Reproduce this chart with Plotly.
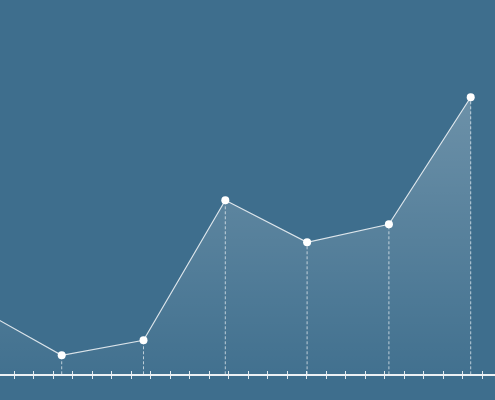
import plotly.graph_objects as go

# data (first point sits just left of the visible area)
steps = [0, 1, 2, 3, 4, 5, 6]
values = [65, 19, 34, 174, 132, 150, 277]

BG = "#3e6e8d"

fig = go.Figure()

# area under the line, fading towards the axis
fig.add_trace(go.Scatter(
    x=steps, y=values, mode="lines",
    line=dict(color="rgba(255,255,255,0)", width=0),
    fill="tozeroy",
    fillgradient=dict(type="vertical", start=0, stop=max(values),
                      colorscale=[[0, "rgba(255,255,255,0.02)"],
                                  [1, "rgba(255,255,255,0.24)"]]),
    hoverinfo="skip", showlegend=False,
))

# dashed drop lines from each point down to the axis
drop_x, drop_y = [], []
for x, y in zip(steps[1:], values[1:]):
    drop_x += [x, x, None]
    drop_y += [0, y, None]
fig.add_trace(go.Scatter(
    x=drop_x, y=drop_y, mode="lines",
    line=dict(color="rgba(255,255,255,0.65)", width=1, dash="3px,2px"),
    hoverinfo="skip", showlegend=False,
))

fig.add_trace(go.Scatter(
    x=steps, y=values, mode="lines+markers",
    line=dict(color="rgba(255,255,255,0.8)", width=1.2),
    marker=dict(color="white", size=8),
    cliponaxis=False,
    showlegend=False,
))

# dummy trace so xaxis2 gets drawn
fig.add_trace(go.Scatter(x=[None], y=[None], xaxis="x2", showlegend=False,
                         hoverinfo="skip"))

# tick spacing / origin chosen so ticks sit where the reference has them
tick0, dtick = 0.417, 0.2385
x_range = [0.2457, 6.297]
tick_col = "rgba(255,255,255,0.85)"

fig.update_layout(
    width=495, height=400,
    margin=dict(l=0, r=0, t=0, b=0),
    paper_bgcolor=BG, plot_bgcolor=BG,
    xaxis=dict(range=x_range, showgrid=False, zeroline=False,
               showline=True, linecolor="rgba(255,255,255,0.9)", linewidth=2,
               showticklabels=False,
               ticks="outside", ticklen=3, tickwidth=1, tickcolor=tick_col,
               tick0=tick0, dtick=dtick, anchor="y"),
    xaxis2=dict(range=x_range, overlaying="x", side="bottom", anchor="y",
                showgrid=False, zeroline=False, showline=False,
                showticklabels=False,
                ticks="inside", ticklen=3, tickwidth=1, tickcolor=tick_col,
                tick0=tick0, dtick=dtick),
    yaxis=dict(range=[0, 374.3], domain=[25.7 / 400, 1], showgrid=False,
               showticklabels=False, zeroline=False, showline=False),
)

fig.write_html("out.html", config={"displayModeBar": False},
               post_script="document.body.style.margin='0';")
